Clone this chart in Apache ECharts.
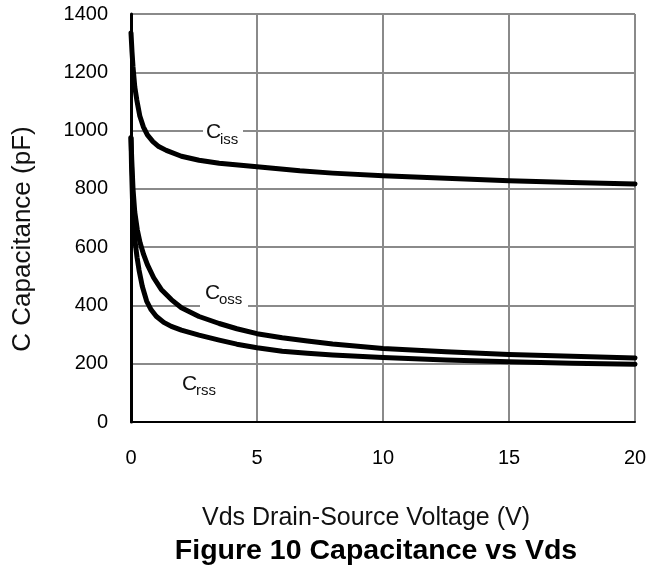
<!DOCTYPE html>
<html><head><meta charset="utf-8">
<script src="https://cdn.jsdelivr.net/npm/echarts@6/dist/echarts.min.js"></script>
<style>html,body{margin:0;padding:0;background:#fff}#c{width:659px;height:585px}</style>
</head><body><div id="c"></div>
<script>
const xTicks = [0, 5, 10, 15, 20];
const yTicks = [0, 200, 400, 600, 800, 1000, 1200, 1400];
const cissV = [0, 0.04, 0.08, 0.15, 0.23, 0.35, 0.49, 0.65, 0.87, 1.1, 1.4, 2, 2.7, 3.5, 5, 6.7, 8, 10, 12.5, 15, 17.5, 20];
const cissC = [1335, 1270, 1218, 1150, 1105, 1050, 1013, 985, 962, 945, 932, 912, 898, 888, 876, 862, 854, 845, 836, 828, 822, 817];
const cossV = [0, 0.03, 0.08, 0.15, 0.25, 0.36, 0.5, 0.65, 0.9, 1.2, 1.6, 2, 2.7, 3.5, 4.2, 5, 6, 7, 8, 10, 12.5, 15, 17.5, 20];
const cossC = [975, 900, 800, 720, 660, 615, 575, 540, 495, 455, 420, 392, 362, 338, 320, 303, 289, 278, 268, 252, 241, 232, 226, 220];
const crssV = [0, 0.02, 0.06, 0.1, 0.16, 0.24, 0.32, 0.45, 0.62, 0.8, 1.0, 1.3, 1.6, 2, 2.7, 3.5, 4.2, 5, 6, 7, 8, 10, 12.5, 15, 17.5, 20];
const crssC = [975, 880, 760, 690, 620, 565, 521, 465, 415, 385, 363, 342, 328, 315, 298, 281, 267, 255, 243, 236, 230, 221, 213, 207, 202, 198];

const zip = (a, b) => a.map((v, i) => [v, b[i]]);
const font = '"Liberation Sans", Arial, sans-serif';
const chart = echarts.init(document.getElementById('c'), null, {renderer: 'canvas'});
const lineSeries = (name, d) => ({
  name, type: 'line', data: d, smooth: false, showSymbol: false, z: 5,
  lineStyle: {color: '#000', width: 5, cap: 'round', join: 'round'}, animation: false
});
chart.setOption({
  animation: false,
  backgroundColor: '#fff',
  grid: {left: 131, right: 24, top: 14, bottom: 163, containLabel: false},
  xAxis: {
    type: 'value', min: xTicks[0], max: xTicks[xTicks.length - 1], interval: 5,
    axisLine: {show: true, onZero: false, lineStyle: {color: '#000', width: 2}},
    axisTick: {show: false},
    axisLabel: {color: '#000', fontSize: 20, fontFamily: font, margin: 26, formatter: v => String(v)},
    splitLine: {show: true, lineStyle: {color: '#8a8a8a', width: 2}}
  },
  yAxis: {
    type: 'value', min: yTicks[0], max: yTicks[yTicks.length - 1], interval: 200,
    axisLine: {show: true, lineStyle: {color: '#000', width: 3}},
    axisTick: {show: false},
    axisLabel: {color: '#000', fontSize: 20, fontFamily: font, margin: 23, formatter: v => String(v)},
    splitLine: {show: true, lineStyle: {color: '#8a8a8a', width: 2}}
  },
  series: [
    lineSeries('Ciss', zip(cissV, cissC)),
    lineSeries('Coss', zip(cossV, cossC)),
    lineSeries('Crss', zip(crssV, crssC))
  ],
  graphic: [
    {type: 'rect', shape: {x: 203, y: 122, width: 40, height: 26}, style: {fill: '#fff'}, z: 10},
    {type: 'text', x: 206, y: 132, z: 11, style: {text: 'C', font: '21px ' + font, fill: '#111', verticalAlign: 'middle'}},
    {type: 'text', x: 220, y: 140, z: 11, style: {text: 'iss', font: '15px ' + font, fill: '#111', verticalAlign: 'middle'}},
    {type: 'rect', shape: {x: 200, y: 283, width: 48, height: 25}, style: {fill: '#fff'}, z: 10},
    {type: 'text', x: 205, y: 293, z: 11, style: {text: 'C', font: '21px ' + font, fill: '#111', verticalAlign: 'middle'}},
    {type: 'text', x: 219, y: 300, z: 11, style: {text: 'oss', font: '15px ' + font, fill: '#111', verticalAlign: 'middle'}},
    {type: 'text', x: 182, y: 384, z: 11, style: {text: 'C', font: '21px ' + font, fill: '#111', verticalAlign: 'middle'}},
    {type: 'text', x: 196, y: 391, z: 11, style: {text: 'rss', font: '15px ' + font, fill: '#111', verticalAlign: 'middle'}},
    {type: 'text', x: 23, y: 239, rotation: Math.PI / 2, z: 11,
     style: {text: 'C Capacitance (pF)', font: '26px ' + font, fill: '#111', align: 'center', verticalAlign: 'middle'}},
    {type: 'text', x: 366, y: 518, z: 11,
     style: {text: 'Vds Drain-Source Voltage (V)', font: '25px ' + font, fill: '#111', align: 'center', verticalAlign: 'middle'}},
    {type: 'text', x: 376, y: 551, z: 11,
     style: {text: 'Figure 10 Capacitance vs Vds', font: 'bold 28.5px ' + font, fill: '#000', align: 'center', verticalAlign: 'middle'}}
  ]
});
</script></body></html>
